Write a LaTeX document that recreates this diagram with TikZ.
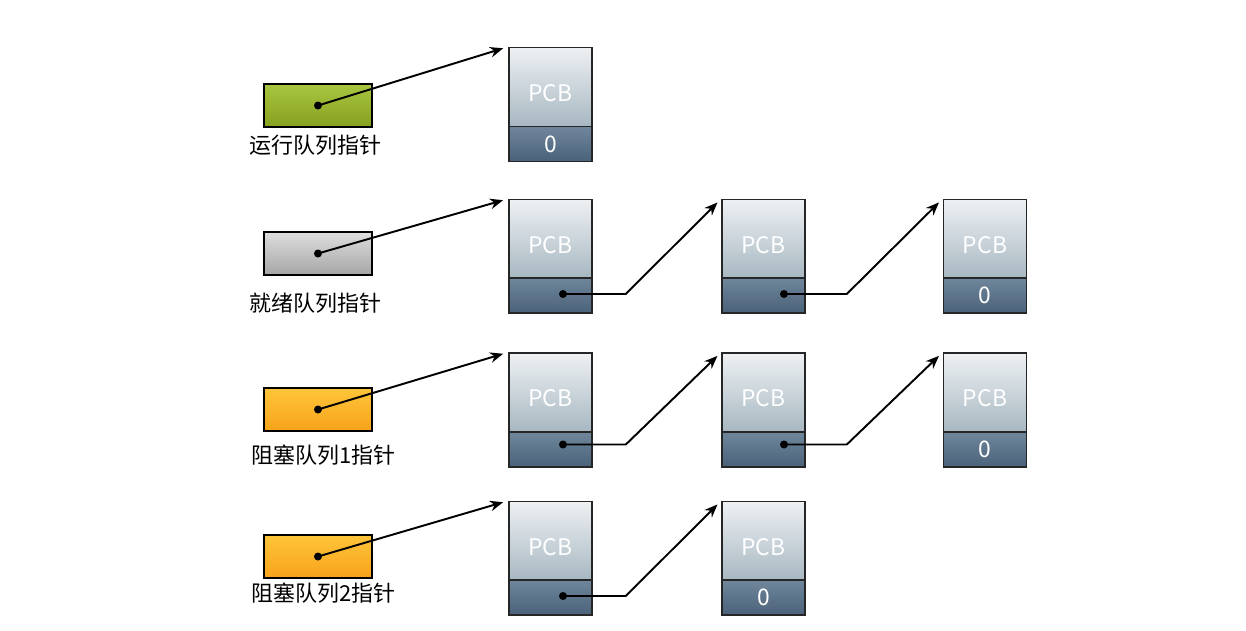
\documentclass[tikz,border=0pt]{standalone}
\usepackage{fontspec}
\newfontfamily\cjk{Noto Sans CJK SC}
\usepackage{tikz}
\usetikzlibrary{arrows.meta,positioning,calc}
\definecolor{pcblight}{HTML}{EEF1F3}
\definecolor{pcbmid}{HTML}{A7B7C1}
\definecolor{pcbdkA}{HTML}{6F869B}
\definecolor{pcbdkB}{HTML}{4A627A}
\definecolor{runA}{HTML}{A8C640}
\definecolor{runB}{HTML}{86A020}
\definecolor{readyA}{HTML}{DEDEDE}
\definecolor{readyB}{HTML}{A5A5A5}
\definecolor{blockA}{HTML}{FFC53A}
\definecolor{blockB}{HTML}{F7A21B}

\begin{document}
\begin{tikzpicture}[x=0.02cm, y=-0.02cm,
    ptrbox/.style={rectangle, draw=black, line width=0.9pt, minimum width=2.16cm,
      minimum height=0.86cm, inner sep=0pt},
    pcbtop/.style={rectangle, draw=black!85, line width=0.9pt, minimum width=1.66cm,
      minimum height=1.58cm, inner sep=0pt, top color=pcblight, bottom color=pcbmid,
      text=white, text height=16pt, text depth=0pt, font=\cjk\fontsize{13}{15}\selectfont},
    pcbbot/.style={rectangle, draw=black!85, line width=0.9pt, minimum width=1.66cm,
      minimum height=0.7cm, inner sep=0pt, top color=pcbdkA, bottom color=pcbdkB,
      text=white, font=\cjk\fontsize{13}{15}\selectfont},
    qlabel/.style={anchor=west, inner sep=0pt, font=\cjk\fontsize{12.5}{15}\selectfont},
    ptrdot/.style={circle, fill=black, inner sep=0pt, minimum size=0.16cm},
    arr/.style={-{Stealth[length=7.5pt,width=6pt]}, line width=1.1pt, shorten >=3pt}
  ]
    \useasboundingbox (0,0) rectangle (1246,630);

    % Queue pointers
    \node[ptrbox, top color=runA, bottom color=runB] (q1) at (318,105.5) {};
    \node[ptrbox, top color=readyA, bottom color=readyB] (q2) at (318,253.5) {};
    \node[ptrbox, top color=blockA, bottom color=blockB] (q3) at (318,409.5) {};
    \node[ptrbox, top color=blockA, bottom color=blockB] (q4) at (318,556.5) {};
    \node[qlabel] (l1) at (249,145) {运行队列指针};
    \node[qlabel] (l2) at (249,303) {就绪队列指针};
    \node[qlabel] (l3) at (251,455) {阻塞队列1指针};
    \node[qlabel] (l4) at (251,593) {阻塞队列2指针};

    % Row 1: running
    \node[pcbtop] (p11) at (550.5,87) {PCB};
    \node[pcbbot] (p11b) at (550.5,144) {0};

    % Row 2: ready
    \node[pcbtop] (p21) at (550.5,239) {PCB};
    \node[pcbbot] (p21b) at (550.5,295.5) {};
    \node[pcbtop] (p22) at (763.5,239) {PCB};
    \node[pcbbot] (p22b) at (763.5,295.5) {};
    \node[pcbtop] (p23) at (985,239) {PCB};
    \node[pcbbot] (p23b) at (985,295.5) {0};

    % Row 3: blocked 1
    \node[pcbtop] (p31) at (550.5,392.5) {PCB};
    \node[pcbbot] (p31b) at (550.5,449.5) {};
    \node[pcbtop] (p32) at (763.5,392.5) {PCB};
    \node[pcbbot] (p32b) at (763.5,449.5) {};
    \node[pcbtop] (p33) at (985,392.5) {PCB};
    \node[pcbbot] (p33b) at (985,449.5) {0};

    % Row 4: blocked 2
    \node[pcbtop] (p41) at (550.5,541) {PCB};
    \node[pcbbot] (p41b) at (550.5,597.5) {};
    \node[pcbtop] (p42) at (763.5,541) {PCB};
    \node[pcbbot] (p42b) at (763.5,597.5) {0};

    % Head pointers
    \node[ptrdot] (d1) at (q1.center) {};
    \node[ptrdot] (d2) at (q2.center) {};
    \node[ptrdot] (d3) at (q3.center) {};
    \node[ptrdot] (d4) at (q4.center) {};
    \draw[arr] (d1.center) -- (p11.north west);
    \draw[arr] (d2.center) -- (p21.north west);
    \draw[arr] (d3.center) -- (p31.north west);
    \draw[arr] (d4.center) -- (p41.north west);

    % Next pointers
    \node[ptrdot] (d21) at ([xshift=0.25cm,yshift=0.03cm]p21b.center) {};
    \node[ptrdot] (d22) at ([xshift=0.41cm,yshift=0.03cm]p22b.center) {};
    \node[ptrdot] (d31) at ([xshift=0.25cm,yshift=0.1cm]p31b.center) {};
    \node[ptrdot] (d32) at ([xshift=0.41cm,yshift=0.1cm]p32b.center) {};
    \node[ptrdot] (d41) at ([xshift=0.25cm,yshift=0.03cm]p41b.center) {};
    \coordinate (k21) at ([xshift=0.66cm,yshift=0.03cm]p21b.east);
    \coordinate (k22) at ([xshift=0.82cm,yshift=0.03cm]p22b.east);
    \coordinate (k31) at ([xshift=0.66cm,yshift=0.1cm]p31b.east);
    \coordinate (k32) at ([xshift=0.82cm,yshift=0.1cm]p32b.east);
    \coordinate (k41) at ([xshift=0.66cm,yshift=0.03cm]p41b.east);
    \draw[arr] (d21.center) -- (k21) -- (p22.north west);
    \draw[arr] (d22.center) -- (k22) -- (p23.north west);
    \draw[arr] (d31.center) -- (k31) -- (p32.north west);
    \draw[arr] (d32.center) -- (k32) -- (p33.north west);
    \draw[arr] (d41.center) -- (k41) -- (p42.north west);
  \end{tikzpicture}
\end{document}
